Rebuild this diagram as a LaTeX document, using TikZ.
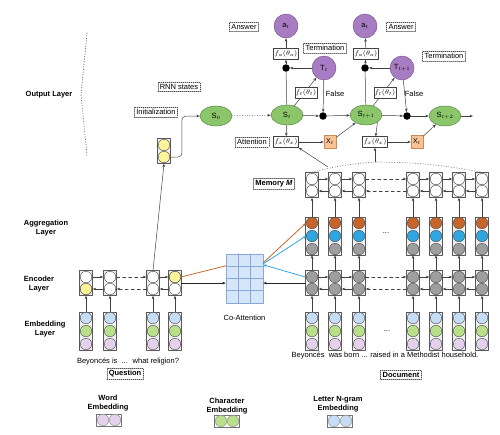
\documentclass[tikz,border=0pt]{standalone}
\usepackage{fontspec}
\setmainfont{Liberation Sans}
\usetikzlibrary{arrows.meta,shapes.geometric,positioning}

\definecolor{stategreen}{HTML}{8CC66A}
\definecolor{stateedge}{HTML}{4E7A3A}
\definecolor{outpurple}{HTML}{A77CC2}
\definecolor{outedge}{HTML}{6F4D86}
\definecolor{xorange}{HTML}{F8C495}
\definecolor{xedge}{HTML}{C98A55}
\definecolor{cellgray}{HTML}{9E9E9E}
\definecolor{cellorange}{HTML}{C8642A}
\definecolor{cellblue}{HTML}{2EA6E2}
\definecolor{cellsky}{HTML}{C6DDF6}
\definecolor{cellgreen}{HTML}{BADF8A}
\definecolor{celllilac}{HTML}{E4D2EC}
\definecolor{cellyellow}{HTML}{FBF49A}
\definecolor{gridblue}{HTML}{D6E6FA}
\definecolor{gridedge}{HTML}{8AA8D6}
\definecolor{arrorange}{HTML}{C8662E}
\definecolor{arrblue}{HTML}{31A8E4}

\tikzset{
  txt/.style={font=\fontsize{7.5}{8.5}\selectfont},
  layer/.style={font=\fontsize{7.5}{8.5}\selectfont\bfseries, align=center},
  tag/.style={txt, draw=black!70, dash pattern=on 1pt off 1pt, inner sep=2pt},
  state/.style={ellipse, draw=stateedge, fill=stategreen, minimum width=32pt, minimum height=20pt, inner sep=0pt, txt},
  outnode/.style={circle, draw=outedge, fill=outpurple, minimum size=24pt, inner sep=0pt, txt},
  fbox/.style={draw=black!75, fill=white, inner sep=1pt, minimum height=11pt, font=\fontsize{7}{8}\selectfont},
  xbox/.style={draw=xedge, fill=xorange, minimum width=12pt, minimum height=13pt, inner sep=0pt, font=\fontsize{7}{8}\selectfont},
  dot/.style={circle, fill=black, minimum size=7.5pt, inner sep=0pt},
  colbox/.style={draw=black!65, fill=black!6, minimum width=13pt, inner sep=0pt},
  cell/.style={circle, draw=black!70, fill=white, minimum size=11.5pt, inner sep=0pt},
  pairbox/.style={draw=black!55, minimum width=25pt, minimum height=12pt, inner sep=0pt},
  flow/.style={draw=black!75, line width=0.5pt, -{Stealth[length=3.5pt,width=2.6pt]}},
}

\begin{document}
\begin{tikzpicture}[x=1pt, y=-1pt, line cap=round, line join=round]
\useasboundingbox (0,0) rectangle (500,434);

% layer names
\node[layer] (outlbl) at (49,95) {Output Layer};
\node[layer] (agglbl) at (46,228) {Aggregation\\Layer};
\node[layer] (enclbl) at (39,284) {Encoder\\Layer};
\node[layer] (emblbl) at (45,329) {Embedding\\Layer};
\draw[black!70, dotted, line width=0.6pt] (87,33) -- (81,95) -- (87,155);

% question columns
\foreach \x [count=\i] in {86,110,153,175} {
  \node[colbox, minimum height=25pt] (qe\i) at (\x,283) {};
  \node[cell] (qe\i-t) at (\x,277) {};
  \node[cell] (qe\i-b) at (\x,289) {};
  \node[colbox, minimum height=38pt] (qw\i) at (\x,331) {};
  \node[cell, fill=cellsky] (qw\i-s) at (\x,318) {};
  \node[cell, fill=cellgreen] (qw\i-g) at (\x,331) {};
  \node[cell, fill=celllilac] (qw\i-l) at (\x,344) {};
  \draw[flow] (qw\i) -- (qe\i);
}
\node[cell, fill=cellyellow] at (qe1-b) {};
\node[cell, fill=cellyellow] at (qe4-t) {};
\foreach \i/\j/\s in {1/2/solid,2/3/dashed,3/4/solid} {
  \draw[flow,\s] (qe\i.east |- qe\i-t) -- (qe\j.west |- qe\j-t);
  \draw[flow,\s] (qe\j.west |- qe\j-b) -- (qe\i.east |- qe\i-b);
}
\node[txt] (qtext) at (128,362) {Beyoncés is \ ... \ what religion?};
\node[tag, font=\fontsize{7.5}{8.5}\selectfont\bfseries] (qtag) at (125,374) {Question};

% document columns
\foreach \x [count=\i] in {312,335,359,413,436,459,482} {
  \node[colbox, minimum height=25pt] (m\i) at (\x,185) {};
  \node[cell] (m\i-t) at (\x,179) {};
  \node[cell] (m\i-b) at (\x,191) {};
  \node[colbox, minimum height=38pt] (g\i) at (\x,236) {};
  \node[cell, fill=cellorange] (g\i-o) at (\x,223) {};
  \node[cell, fill=cellblue] (g\i-b) at (\x,236) {};
  \node[cell, fill=cellgray] (g\i-g) at (\x,249) {};
  \node[colbox, minimum height=25pt] (e\i) at (\x,283) {};
  \node[cell, fill=cellgray] (e\i-t) at (\x,277) {};
  \node[cell, fill=cellgray] (e\i-b) at (\x,289) {};
  \node[colbox, minimum height=38pt] (w\i) at (\x,331) {};
  \node[cell, fill=cellsky] (w\i-s) at (\x,318) {};
  \node[cell, fill=cellgreen] (w\i-g) at (\x,331) {};
  \node[cell, fill=celllilac] (w\i-l) at (\x,344) {};
  \draw[flow] (w\i) -- (e\i);
  \draw[flow] (e\i) -- (g\i);
  \draw[flow] (g\i) -- (m\i);
}
\foreach \i/\j/\s in {1/2/solid,2/3/solid,3/4/dashed,4/5/solid,5/6/solid,6/7/solid} {
  \draw[flow,\s] (m\i.east |- m\i-t) -- (m\j.west |- m\j-t);
  \draw[flow,\s] (m\j.west |- m\j-b) -- (m\i.east |- m\i-b);
  \draw[flow,\s] (e\i.east |- e\i-t) -- (e\j.west |- e\j-t);
  \draw[flow,\s] (e\j.west |- e\j-b) -- (e\i.east |- e\i-b);
}
\node[txt] (gdots) at (386,233) {...};
\node[txt] (wdots) at (387,331) {...};
\node[txt] (dtext) at (385,356) {Beyoncés \ was born ... raised in a Methodist household.};
\node[tag, font=\fontsize{7.5}{8.5}\selectfont\bfseries] (dtag) at (401,375) {Document};
\node[tag, font=\fontsize{7.5}{8.5}\selectfont\bfseries] (memtag) at (274,184) {Memory \textit{M}};

% co-attention
\node[draw=gridedge, fill=gridblue, minimum width=37pt, minimum height=49pt, inner sep=0pt] (coatt) at (244.5,278.5) {};
\foreach \k in {1,2}
  \draw[gridedge] ([xshift=\k*12.33pt]coatt.north west) -- ([xshift=\k*12.33pt]coatt.south west);
\foreach \k in {1,2,3}
  \draw[gridedge] ([yshift=-\k*12.25pt]coatt.north west) -- ([yshift=-\k*12.25pt]coatt.north east);
\node[txt, below=8pt of coatt] (colbl) {Co-Attention};

\draw[flow, line width=1.1pt, draw=black!85] (qe4.east |- qe4-b.north) -- (coatt.west |- qe4-b.north);
\draw[arrorange, line width=0.8pt] (qe4-t.east) -- ([yshift=-12pt]coatt.north west);
\draw[flow, draw=arrorange, line width=0.8pt] ([yshift=-9pt]coatt.north east) -- (g1-o.west);
\draw[flow, draw=arrblue, line width=0.8pt] ([yshift=-10pt]coatt.north east) -- (g1-b.west);
\draw[flow, draw=arrblue, line width=0.8pt] (e1.west |- e1-t) -- ([yshift=-11pt]coatt.north east);
\draw[flow, line width=1.1pt, draw=black!85] (e1.west |- e1-b.north) -- (coatt.east |- e1-b.north);

% question summary
\node[colbox, minimum height=25pt] (qvec) at (164,151) {};
\node[cell, fill=cellyellow] (qvec-t) at (164,145) {};
\node[cell, fill=cellyellow] (qvec-b) at (164,157) {};
\draw[flow] (qe3.north) -- (qvec.south);

% output layer
\node[state] (S0) at (216,116) {S$_0$};
\node[state] (St) at (287,115) {S$_t$};
\node[state] (St1) at (366,115) {S$_{t+1}$};
\node[state] (St2) at (445,116) {S$_{t+2}$};
\node[outnode] (a1) at (286,26) {a$_t$};
\node[outnode] (a2) at (365,26) {a$_t$};
\node[outnode] (T1) at (324,68) {T$_t$};
\node[outnode] (T2) at (402,68) {T$_{t+1}$};
\node[dot] (d1) at (286,68) {};
\node[dot] (d2) at (323,116) {};
\node[dot] (d3) at (365,68) {};
\node[dot] (d4) at (407,116) {};
\node[fbox] (fa1) at (286,54) {$f_a(\theta_a)$};
\node[fbox] (fa2) at (366,54) {$f_a(\theta_a)$};
\node[fbox] (fx1) at (286,142) {$f_x(\theta_x)$};
\node[fbox] (fx2) at (375,142) {$f_x(\theta_x)$};
\node[xbox] (X1) at (330,142) {$\mathrm{X}_t$};
\node[xbox] (X2) at (417,142) {$\mathrm{X}_t$};
\coordinate (sout) at (473,116);

\node[tag] (anstag1) at (244,27) {Answer};
\node[tag] (anstag2) at (401,27) {Answer};
\node[tag] (termtag1) at (325,48) {Termination};
\node[tag] (termtag2) at (444,56) {Termination};
\node[tag] (rnntag) at (179,87) {RNN states};
\node[tag] (inittag) at (156,112) {Initialization};
\node[tag] (atttag) at (252,142) {Attention};
\node[txt] (false1) at (335,94) {False};
\node[txt] (false2) at (414,94) {False};

\draw[flow, rounded corners=4pt] (qvec-b.east) -- ++(12,0) |- (S0.west);
\draw[flow, dotted] (S0) -- (St);

\draw[flow] (St) -- (T1);
\node[fbox] (ft1) at (306,93) {$f_t(\theta_t)$};
\draw[flow] (St1) -- (T2);
\node[fbox] (ft2) at (385,93) {$f_t(\theta_t)$};

\draw[black!75, line width=0.5pt] (St) -- (d1);
\draw[flow] (d1) -- (fa1);
\draw[flow] (fa1) -- (a1);
\draw[flow] (T1) -- (d1);
\draw[flow] (T1) -- (d2);
\draw[flow] (St) -- (d2);
\draw[flow] (d2) -- (St1);
\draw[flow] (St) -- (fx1);
\draw[flow] (fx1) -- (X1);
\draw[flow] (X1) -- (St1);

\draw[black!75, line width=0.5pt] (St1) -- (d3);
\draw[flow] (d3) -- (fa2);
\draw[flow] (fa2) -- (a2);
\draw[flow] (T2) -- (d3);
\draw[flow] (T2) -- (d4);
\draw[flow] (St1) -- (d4);
\draw[flow] (d4) -- (St2);
\draw[flow] (St1.south east) -- (fx2);
\draw[flow] (fx2) -- (X2);
\draw[flow] (X2) -- (St2);
\draw[flow] (St2) -- (sout);

% memory read
\coordinate (mtop) at (375,162);
\coordinate (mleft) at (328,167);
\draw[black!55, dotted, line width=0.6pt] (m1.north) to[bend left=5] (mtop) to[bend left=5] (m7.north);
\draw[flow] (mleft) -- (fx1.south east);
\draw[flow] (mtop) -- (fx2.south);

% legend
\node[layer] (wordlbl) at (108,403) {Word\\Embedding};
\node[pairbox] (wordkey) at (109,420) {};
\node[cell, fill=celllilac, draw=black!45] at (103,420) {};
\node[cell, fill=celllilac, draw=black!45] at (115,420) {};
\node[layer] (charlbl) at (227,406) {Character\\Embedding};
\node[pairbox] (charkey) at (227,421) {};
\node[cell, fill=cellgreen, draw=black!45] at (221,421) {};
\node[cell, fill=cellgreen, draw=black!45] at (233,421) {};
\node[layer] (ngramlbl) at (338,404) {Letter N-gram\\Embedding};
\node[pairbox] (ngramkey) at (340,421) {};
\node[cell, fill=cellsky, draw=black!45] at (334,421) {};
\node[cell, fill=cellsky, draw=black!45] at (346,421) {};

\end{tikzpicture}
\end{document}
